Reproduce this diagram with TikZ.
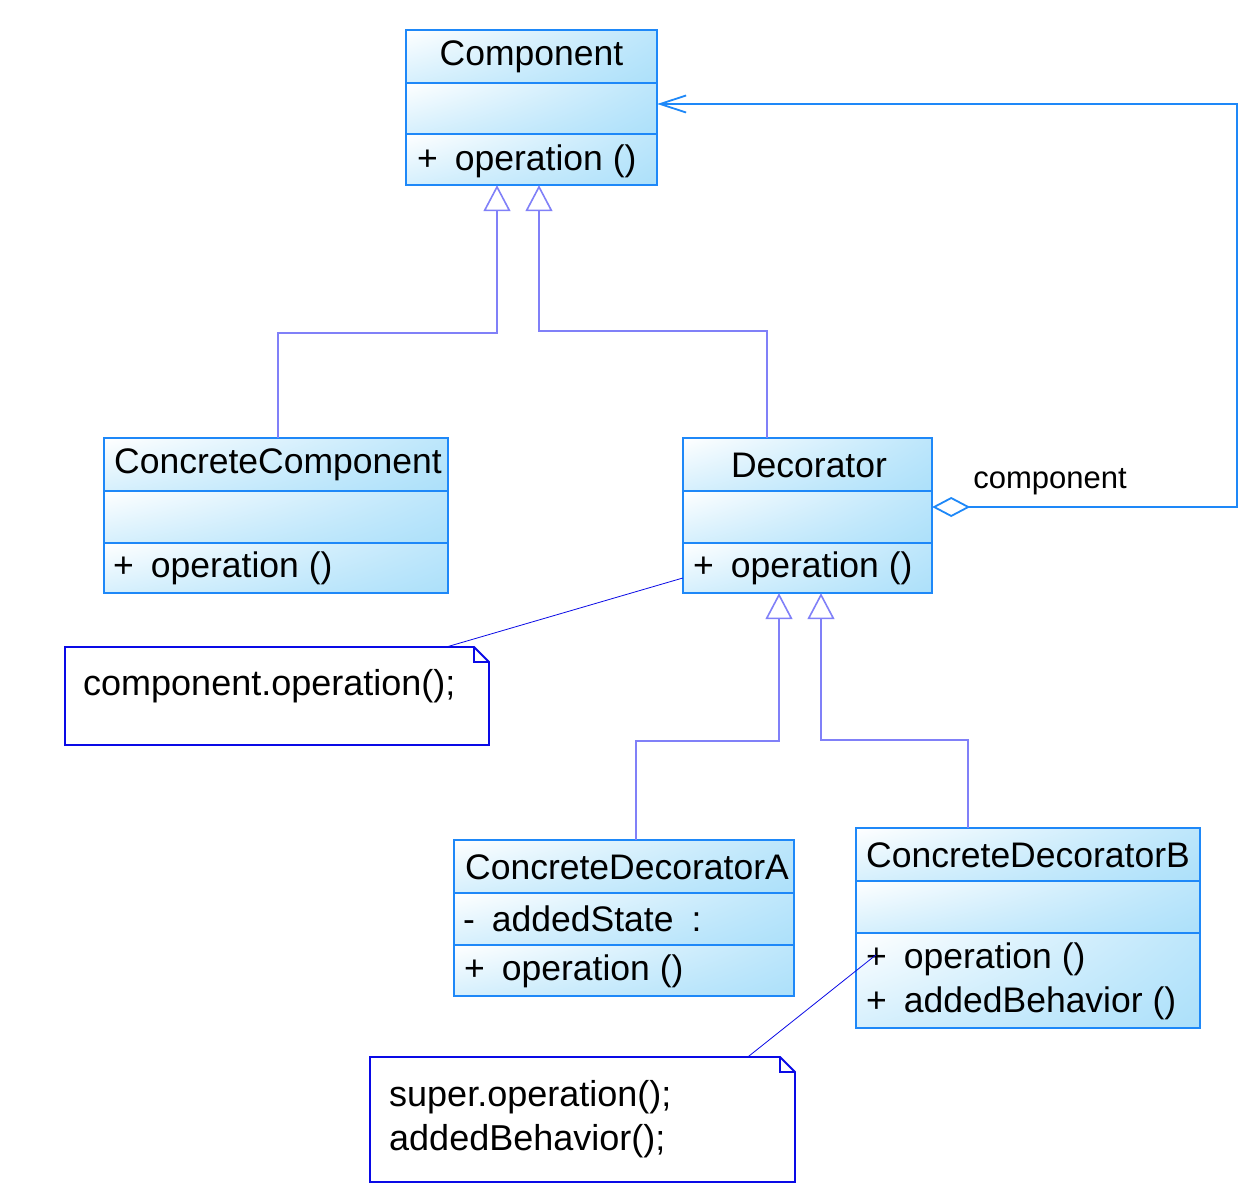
\documentclass[tikz,border=0pt]{standalone}
\usepackage{fontspec}
\setmainfont{Liberation Sans}
\usetikzlibrary{arrows.meta,fit,calc,shadings}

\definecolor{clsborder}{HTML}{1E88F8}
\definecolor{clsfill}{HTML}{ACE0FA}
\definecolor{genline}{HTML}{8080F8}
\definecolor{noteline}{HTML}{0A0AE6}

\tikzset{
  clsshade/.style={upper left=white, lower left=clsfill!50!white,
    upper right=clsfill!80!white, lower right=clsfill},
  clsline/.style={draw=clsborder, line width=2pt},
  member/.style={anchor=west, inner sep=0pt, font=\fontsize{35.5}{40}\selectfont},
  title/.style={inner sep=0pt, font=\fontsize{35.5}{40}\selectfont},
  generalize/.style={draw=genline, line width=1.6pt,
    -{Triangle[open, fill=white, length=26pt, width=27pt, line width=1.6pt]}},
  aggregate/.style={draw=clsborder, line width=1.8pt,
    {Diamond[open, fill=white, length=38pt, width=20pt, line width=1.8pt]}-{Straight Barb[length=26pt, width=17pt, line width=1.8pt]}},
  notebox/.style={draw=noteline, line width=1.8pt, fill=white},
  notelink/.style={draw=noteline, line width=0.8pt},
  notetext/.style={anchor=west, inner sep=0pt, font=\fontsize{36}{44}\selectfont, align=left},
}

% class box: name, x1, y1, x2, y2, first divider, second divider
\newcommand\umlclass[7]{%
  \shade[clsshade] (#2,#3) rectangle (#4,#6);
  \shade[clsshade] (#2,#6) rectangle (#4,#7);
  \shade[clsshade] (#2,#7) rectangle (#4,#5);
  \draw[clsline] (#2,#3) rectangle (#4,#5) (#2,#6) -- (#4,#6) (#2,#7) -- (#4,#7);
  \coordinate (#1-nw) at (#2,#3);
  \coordinate (#1-se) at (#4,#5);
  \node[fit=(#1-nw)(#1-se), inner sep=0pt] (#1) {};
}

% note with folded corner: name, x1, y1, x2, y2
\newcommand\umlnote[5]{%
  \draw[notebox] (#2,#3) -- ($(#4,#3)+(-15,0)$) -- ($(#4,#3)+(0,15)$) -- (#4,#5) -- (#2,#5) -- cycle;
  \draw[notebox, fill=none] ($(#4,#3)+(-15,0)$) -- ($(#4,#3)+(-15,15)$) -- ($(#4,#3)+(0,15)$);
  \coordinate (#1-nw) at (#2,#3);
  \coordinate (#1-se) at (#4,#5);
  \node[fit=(#1-nw)(#1-se), inner sep=0pt] (#1) {};
}

\begin{document}
\begin{tikzpicture}[x=1pt, y=-1pt]
\useasboundingbox (0,0) rectangle (1252,1185);
\fill[white] (0,0) rectangle (1252,1185);

% classes
\umlclass{comp}{406}{30}{657}{185}{83}{134}
\node[title] (compname) at (531.5,57) {Component};
\node[member] (compop) at (417,161) {+\hspace{17pt}operation ()};

\umlclass{cc}{104}{438}{448}{593}{491}{543}
\node[title] (ccname) at (278,465) {ConcreteComponent};
\node[member] (ccop) at (113,568) {+\hspace{17pt}operation ()};

\umlclass{dec}{683}{438}{932}{593}{491}{543}
\node[title] (decname) at (809,465) {Decorator};
\node[member] (decop) at (693,568) {+\hspace{17pt}operation ()};

\umlclass{cda}{454}{840}{794}{996}{893}{945}
\node[title] (cdaname) at (627,867) {ConcreteDecoratorA};
\node[member] (cdastate) at (463,919) {-\hspace{17pt}addedState\hspace{18pt}:};
\node[member] (cdaop) at (464,971) {+\hspace{17pt}operation ()};

\umlclass{cdb}{856}{828}{1200}{1028}{881}{933}
\node[title] (cdbname) at (1028,855) {ConcreteDecoratorB};
\node[member] (cdbop) at (866,959) {+\hspace{17pt}operation ()};
\node[member] (cdbadd) at (866,1003) {+\hspace{17pt}addedBehavior ()};

% notes
\umlnote{noteA}{65}{647}{489}{745}
\node[notetext] (noteAtext) at (83,686) {component.operation();};
\umlnote{noteB}{370}{1057}{795}{1182}
\node[notetext] (noteBtext) at (389,1119) {super.operation();\\addedBehavior();};

% generalizations
\draw[generalize] ([xshift=2pt]cc.north) -- ++(0,-105) -| ([xshift=-34.5pt]comp.south);
\draw[generalize] ([xshift=-40.5pt]dec.north) -- ++(0,-107) -| ([xshift=7.5pt]comp.south);
\draw[generalize] ([xshift=12pt]cda.north) -- ++(0,-99) -| ([xshift=-28.5pt]dec.south);
\draw[generalize] ([xshift=-60pt]cdb.north) -- ++(0,-88) -| ([xshift=13.5pt]dec.south);

% aggregation
\draw[aggregate] ([yshift=8.5pt]dec.east) -- ++(305,0) |- ([yshift=3.5pt]comp.east);
\node[inner sep=0pt, font=\fontsize{31}{34}\selectfont] (rolename) at (1050,482) {component};

% note links
\draw[notelink] ([yshift=-62.5pt]dec.west) -- ([xshift=170pt]noteA.north);
\draw[notelink] ([xshift=20pt, yshift=-27pt]cdb.west) -- ([xshift=165.5pt]noteB.north);
\end{tikzpicture}
\end{document}
